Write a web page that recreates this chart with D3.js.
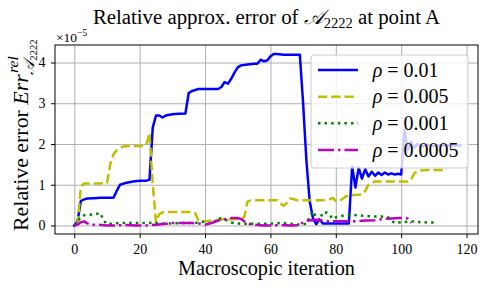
<!DOCTYPE html>
<html><head><meta charset="utf-8">
<script src="https://cdn.jsdelivr.net/npm/d3@7"></script>
<style>body{margin:0;background:#fff}svg{display:block}</style>
</head><body><svg id="c" width="488" height="289"></svg>
<script>
// All values in units of 1e-5
const blueX = [0,1,2,3,4,6,8,10,12,13,14,16,18,20,22,23,24,25,26,27,28,30,32,34,35,36,38,40,42,44,45,46,47,48,49,50,51,53,55,56,57,58,59,60,61,62,64,66,68,69,70,71,72,73,74,75,76,78,80,82,84,85,86,87,88,89,90,91,92,93,94,95,96,97,98,99,100,101,102,103,104,105,106,108,110,112,114,116,118];
const blueY = [0,0.1,0.6,0.64,0.66,0.67,0.68,0.68,0.68,0.85,1.0,1.05,1.08,1.1,1.1,1.12,2.4,2.7,2.7,2.65,2.7,2.73,2.74,2.75,3.25,3.3,3.35,3.35,3.35,3.35,3.4,3.52,3.48,3.6,3.75,3.88,3.93,3.95,3.97,3.97,4.07,4.03,4.05,4.15,4.21,4.21,4.19,4.19,4.19,4.19,3.0,1.6,0.6,0.18,0.03,0.15,0.05,0.05,0.05,0.05,0.05,1.45,0.93,1.42,1.15,1.38,1.2,1.32,1.22,1.3,1.24,1.3,1.25,1.28,1.25,1.27,1.25,2.35,1.85,2.05,1.9,2.0,1.93,1.98,1.95,1.97,1.96,1.96,1.96];
const yelX = [1,2,3,4,6,8,10,11,12,13,14,15,17,19,21,22,23,24,25,26,27,28,30,32,34,36,37,38,39,40,42,44,46,48,50,51,52,53,54,56,58,60,62,63,64,65,66,67,68,70,72,74,76,78,79,80,81,82,83,84,86,88,89,90,91,92,94,96,98,100,102,103,104,105,106,108,110,112,114];
const yelY = [0,0.95,1.03,1.03,1.03,1.03,1.04,1.5,1.75,1.85,1.9,1.94,1.95,1.95,1.95,1.97,2.27,1.0,0.08,0.28,0.32,0.33,0.33,0.33,0.33,0.33,0.3,0.12,0.08,0.1,0.12,0.14,0.15,0.15,0.16,0.18,0.2,0.59,0.61,0.62,0.62,0.62,0.62,0.55,0.48,0.55,0.66,0.65,0.62,0.62,0.62,0.62,0.62,0.64,0.68,0.6,0.6,0.65,0.71,0.74,0.75,0.76,0.85,1.0,1.05,1.08,1.08,1.08,1.08,1.08,1.08,1.12,1.28,1.33,1.35,1.36,1.36,1.36,1.36];
const grnX = [0,1,2,3,4,6,8,9,10,12,15,18,21,24,27,30,33,36,38,40,41,43,44,46,48,50,52,55,58,60,63,66,69,71,72,73,74,75,76,77,78,79,80,81,83,85,88,91,94,96,97,98,100,103,106,110];
const grnY = [0,0.1,0.2,0.25,0.26,0.27,0.3,0.12,0.03,0.05,0.06,0.06,0.06,0.06,0.05,0.05,0.06,0.06,0.07,0.1,0.04,0.1,0.18,0.15,0.07,0.05,0.04,0.04,0.04,0.04,0.06,0.04,0.02,0.04,0.2,0.35,0.2,0.12,0.32,0.32,0.28,0.16,0.2,0.22,0.25,0.26,0.24,0.22,0.22,0.2,0.12,0.06,0.08,0.1,0.08,0.07];
const magX = [0,1,2,3,4,5,7,10,13,16,19,22,25,28,30,33,36,38,40,42,44,46,48,50,51,52,53,54,56,58,60,63,66,69,70,71,72,74,76,78,80,83,86,89,92,95,97,99,101,102,103];
const magY = [0,0.02,0.08,0.1,0.05,0.02,0.02,0.0,0.0,0.01,0.0,0.0,0.02,0.04,0.06,0.06,0.06,0.05,0.02,0.06,0.12,0.15,0.18,0.18,0.16,0.1,0.05,0.03,0.01,0.0,0.0,0.01,0.0,0.01,0.08,0.12,0.12,0.14,0.12,0.1,0.1,0.1,0.1,0.12,0.13,0.16,0.17,0.18,0.18,0.17,0.06];
const rhoLabels = ["0.01","0.005","0.001","0.0005"];
const xTicks = [0,20,40,60,80,100,120];
const yTicks = [0,1,2,3,4];

const FONT = "'Liberation Serif','DejaVu Serif',serif";
const series = [
  {x:blueX, y:blueY, color:"#0000ff", dash:null, label:rhoLabels[0]},
  {x:yelX, y:yelY, color:"#bfbf00", dash:"9.25,4", label:rhoLabels[1]},
  {x:grnX, y:grnY, color:"#008000", dash:"2.5,4.1", label:rhoLabels[2]},
  {x:magX, y:magY, color:"#bf00bf", dash:"16,4,2.5,4", label:rhoLabels[3]}
];

const L=55, R=478, T=45, B=234;
const svg = d3.select("#c");
const x = d3.scaleLinear().domain([-5.9,123.5]).range([L,R]);
const y = d3.scaleLinear().domain([-0.21,4.43]).range([B,T]);

function fit(sel, w){
  const bb = sel.node().getBBox();
  const fs = parseFloat(sel.attr("font-size"));
  sel.attr("font-size", fs*w/bb.width);
  return fs*w/bb.width;
}

// grid
svg.append("g").attr("transform",`translate(0,${B})`)
  .call(d3.axisBottom(x).tickValues(xTicks).tickSize(-(B-T)).tickFormat(""))
  .call(g=>{g.select(".domain").remove(); g.selectAll("line").attr("stroke","#b0b0b0").attr("stroke-width",1);});
svg.append("g").attr("transform",`translate(${L},0)`)
  .call(d3.axisLeft(y).tickValues(yTicks).tickSize(-(R-L)).tickFormat(""))
  .call(g=>{g.select(".domain").remove(); g.selectAll("line").attr("stroke","#b0b0b0").attr("stroke-width",1);});

// lines
svg.append("clipPath").attr("id","clip").append("rect").attr("x",L).attr("y",T).attr("width",R-L).attr("height",B-T);
const line = d3.line().x(d=>x(d[0])).y(d=>y(d[1]));
const gl = svg.append("g").attr("clip-path","url(#clip)");
series.forEach(s=>{
  const pts = s.x.map((v,i)=>[v,s.y[i]]);
  gl.append("path").attr("d",line(pts)).attr("fill","none").attr("stroke",s.color)
    .attr("stroke-width",2.5).attr("stroke-linejoin","round")
    .attr("stroke-linecap", s.dash? "butt":"square")
    .attr("stroke-dasharray", s.dash);
});

// axes
const ax = svg.append("g").attr("transform",`translate(0,${B})`)
  .call(d3.axisBottom(x).tickValues(xTicks).tickSize(4).tickPadding(6).tickFormat(d3.format("d")));
const ay = svg.append("g").attr("transform",`translate(${L},0)`)
  .call(d3.axisLeft(y).tickValues(yTicks).tickSize(4).tickPadding(5.5).tickFormat(d3.format("d")));
[ax,ay].forEach(g=>{
  g.select(".domain").remove();
  g.selectAll("line").attr("stroke","#000").attr("stroke-width",1);
  g.selectAll("text").attr("font-family",FONT).attr("font-size",14).attr("fill","#000");
});
svg.append("rect").attr("x",L).attr("y",T).attr("width",R-L).attr("height",B-T)
  .attr("fill","none").attr("stroke","#000").attr("stroke-width",1);

// offset text
const off = svg.append("text").attr("x",56).attr("y",41.5).attr("font-family",FONT).attr("font-size",13.5);
off.append("tspan").text("×10");
off.append("tspan").attr("font-size","70%").attr("dy","-0.6em").text("−5");

// title
const title = svg.append("text").attr("x",266.5).attr("y",24).attr("text-anchor","middle")
  .attr("font-family",FONT).attr("font-size",18);
title.append("tspan").text("Relative approx. error of ");
title.append("tspan").attr("font-style","italic").text("𝒜");
title.append("tspan").attr("font-size","70%").attr("dy","0.3em").text("2222");
title.append("tspan").attr("dy","-0.21em").text(" at point A");
fit(title, 347);

// x label
const xl = svg.append("text").attr("x",266.5).attr("y",275).attr("text-anchor","middle")
  .attr("font-family",FONT).attr("font-size",18).text("Macroscopic iteration");
fit(xl, 177);

// y label
const yg = svg.append("g").attr("transform","translate(27.5,231) rotate(-90)");
const ym = yg.append("text").attr("x",0).attr("y",0).attr("font-family",FONT).attr("font-size",18);
ym.append("tspan").text("Relative error ");
ym.append("tspan").attr("font-style","italic").text("Err");
const yfs = fit(ym, 158);
const mw = ym.node().getBBox().width;
yg.append("text").attr("x",mw+1).attr("y",-0.42*yfs).attr("font-family",FONT).attr("font-style","italic")
  .attr("font-size",yfs*0.7).text("rel");
const ysub = yg.append("text").attr("x",mw-1).attr("y",0.3*yfs).attr("font-family",FONT).attr("font-size",yfs*0.7);
ysub.append("tspan").attr("font-style","italic").text("𝒜");
ysub.append("tspan").attr("font-size","70%").attr("dy","0.3em").text("2222");

// legend
const lg = svg.append("g");
lg.append("rect").attr("x",311).attr("y",55).attr("width",157).attr("height",113).attr("rx",3)
  .attr("fill","#fff").attr("fill-opacity",0.8).attr("stroke","#cccccc").attr("stroke-width",1);
const rowY = d3.scalePoint().domain(series.map(s=>s.label)).range([70,150]);
const texts = [];
series.forEach(s=>{
  const ry = rowY(s.label);
  lg.append("line").attr("x1",318).attr("x2",358).attr("y1",ry).attr("y2",ry)
    .attr("stroke",s.color).attr("stroke-width",2.5).attr("stroke-dasharray",s.dash);
  const t = lg.append("text").attr("x",372.7).attr("y",ry+6.5).attr("font-family",FONT).attr("font-size",18);
  t.append("tspan").attr("font-style","italic").text("ρ");
  t.append("tspan").text(" = "+s.label);
  texts.push(t);
});
const lfs = 18*87/texts[3].node().getBBox().width;
texts.forEach(t=>t.attr("font-size",lfs));
</script></body></html>
